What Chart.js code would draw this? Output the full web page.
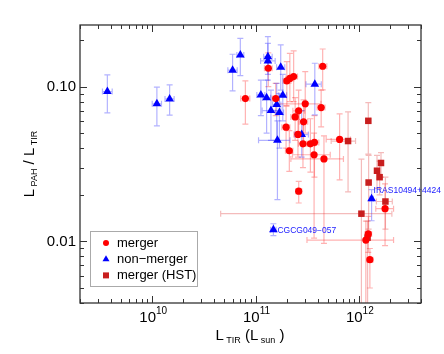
<!DOCTYPE html>
<html>
<head>
<meta charset="utf-8">
<script src="https://cdn.jsdelivr.net/npm/chart.js@4/dist/chart.umd.min.js"></script>
<style>html,body{margin:0;padding:0;background:#fff;}</style>
</head>
<body>
<canvas id="c" width="444" height="354"></canvas>
<script>
// axis ranges and ticks
var xMin = 2e9, xMax = 4e12;
var yMin = 0.004, yMax = 0.25;
var xMajorTicks = [1e10, 1e11, 1e12];
var xMajorExp = ['10', '11', '12'];
var yMajorTicks = [0.01, 0.1];
var yMajorText = ['0.01', '0.10'];

// merger (red circles)
var mergerL    = [7.98e10, 1.33e11, 4.47e11, 2.01e11, 2.15e11, 2.34e11, 1.569e11, 3.03e11, 4.32e11, 2.615e11, 2.42e11, 2.92e11, 1.977e11, 2.575e11, 2.88e11, 3.40e11, 3.72e11, 2.125e11, 3.69e11, 4.60e11, 2.62e11, 6.52e11, 1.795e12, 1.236e12, 1.17e12, 1.28e12];
var mergerR    = [0.0837, 0.1314, 0.1354, 0.1088, 0.1129, 0.116, 0.0837, 0.0774, 0.0732, 0.0697, 0.0637, 0.0592, 0.0547, 0.0491, 0.0427, 0.0427, 0.0436, 0.0385, 0.0363, 0.0341, 0.0211, 0.0456, 0.01626, 0.01117, 0.0102, 0.00762];
var mergerRLo  = [0.0572, 0.100, 0.0952, 0.075, 0.080, 0.080, 0.065, 0.050, 0.055, 0.050, 0.045, 0.042, 0.040, 0.035, 0.030, 0.028, 0.026, 0.0283, 0.0105, 0.0097, 0.0177, 0.025, 0.0094, 0.0085, 0.0035, 0.0050];
var mergerRHi  = [0.1088, 0.165, 0.175, 0.145, 0.164, 0.170, 0.105, 0.125, 0.095, 0.095, 0.085, 0.082, 0.075, 0.068, 0.060, 0.062, 0.065, 0.052, 0.050, 0.048, 0.0244, 0.0667, 0.0235, 0.0145, 0.0135, 0.0090];
var mergerLLo  = [7.2e10, 1.22e11, 4.1e11, 1.85e11, 1.97e11, 2.15e11, 1.45e11, 1.6e11, 3.95e11, 2.3e11, 2.2e11, 2.65e11, 1.8e11, 2.35e11, 2.6e11, 3.1e11, 3.4e11, 1.95e11, 2.28e11, 2.2e11, 2.45e11, 4.83e11, 1.46e12, 1.15e12, 3.15e11, 1.2e12];
var mergerLHi  = [8.8e10, 1.45e11, 4.9e11, 2.2e11, 2.35e11, 2.55e11, 1.7e11, 4.3e11, 4.7e11, 3.0e11, 2.65e11, 3.2e11, 2.15e11, 2.8e11, 3.2e11, 3.75e11, 4.1e11, 2.3e11, 5.29e11, 7.1e11, 2.8e11, 8.3e11, 2.17e12, 1.33e12, 2.17e12, 1.37e12];

// non-merger (blue triangles)
var nonL    = [3.68e9, 1.11e10, 1.475e10, 6.0e10, 7.13e10, 1.318e11, 1.318e11, 1.754e11, 3.75e11, 1.127e11, 1.281e11, 1.837e11, 1.604e11, 1.411e11, 1.705e11, 1.63e11, 2.80e11, 1.33e12, 1.49e11];
var nonR    = [0.0929, 0.0774, 0.0833, 0.1276, 0.160, 0.156, 0.1466, 0.1334, 0.1036, 0.0884, 0.0846, 0.088, 0.0766, 0.070, 0.068, 0.045, 0.049, 0.01886, 0.0119];
var nonRLo  = [0.0676, 0.0558, 0.0654, 0.0938, 0.1178, 0.12, 0.11, 0.095, 0.0657, 0.065, 0.05, 0.06, 0.045, 0.045, 0.040, 0.0186, 0.035, 0.0136, 0.0109];
var nonRHi  = [0.119, 0.0991, 0.1026, 0.1618, 0.205, 0.21, 0.19, 0.186, 0.1415, 0.11, 0.11, 0.12, 0.105, 0.095, 0.090, 0.060, 0.070, 0.0216, 0.0130];
var nonLLo  = [3.3e9, 1.0e10, 1.33e10, 5.4e10, 6.6e10, 1.2e11, 1.12e11, 1.6e11, 3.08e11, 1.03e11, 1.17e11, 1.68e11, 1.46e11, 1.16e11, 1.55e11, 1.07e11, 2.4e11, 1.28e12, 1.40e11];
var nonLHi  = [4.1e9, 1.23e10, 1.63e10, 6.65e10, 7.7e10, 1.45e11, 1.55e11, 1.92e11, 4.33e11, 1.23e11, 1.4e11, 2.0e11, 1.76e11, 1.76e11, 1.87e11, 2.16e11, 3.25e11, 1.38e12, 1.58e11];
var nonNames = ['', '', '', '', '', '', '', '', '', '', '', '', '', '', '', '', '', 'IRAS10494+4424', 'CGCG049\u2212057'];

// merger (HST) (dark red squares)
var hstL    = [1.236e12, 7.87e11, 1.64e12, 1.50e12, 1.59e12, 1.245e12, 1.81e12, 1.06e12, 1.216e12];
var hstR    = [0.0601, 0.0445, 0.0321, 0.0286, 0.026, 0.024, 0.0181, 0.0151, 0.01057];
var hstRLo  = [0.0366, 0.0209, 0.026, 0.022, 0.020, 0.012, 0.012, 0.003, 0.003];
var hstRHi  = [0.0788, 0.0687, 0.0374, 0.036, 0.033, 0.036, 0.026, 0.034, 0.0135];
var hstLLo  = [1.18e12, 5.4e11, 1.56e12, 1.43e12, 1.51e12, 1.18e12, 1.48e12, 4.6e10, 1.15e12];
var hstLHi  = [1.3e12, 9.3e11, 1.72e12, 1.58e12, 1.67e12, 1.31e12, 2.11e12, 2.09e12, 1.28e12];

var legendNames = ['merger', 'non\u2212merger', 'merger (HST)'];

var FONT = "'Liberation Sans', Arial, Helvetica, sans-serif";

function points(L, R, rlo, rhi, llo, lhi, names) {
    var out = [];
    for (var i = 0; i < L.length; i++) {
        out.push({x: L[i], y: R[i], yLo: rlo[i], yHi: rhi[i], xLo: llo[i], xHi: lhi[i],
                  name: names ? names[i] : ''});
    }
    return out;
}

var errorBars = {
    id: 'errorBars',
    beforeDatasetsDraw: function(chart) {
        var ctx = chart.ctx, xs = chart.scales.x, ys = chart.scales.y, a = chart.chartArea;
        var cap = 3;
        ctx.save();
        ctx.beginPath();
        ctx.rect(a.left, a.top, a.right - a.left, a.bottom - a.top);
        ctx.clip();
        ctx.lineWidth = 1.2;
        chart.data.datasets.forEach(function(ds) {
            ctx.strokeStyle = ds.errColor;
            ds.data.forEach(function(p) {
                var px = xs.getPixelForValue(p.x), py = ys.getPixelForValue(p.y);
                var y1 = ys.getPixelForValue(p.yLo), y2 = ys.getPixelForValue(p.yHi);
                var x1 = xs.getPixelForValue(p.xLo), x2 = xs.getPixelForValue(p.xHi);
                ctx.beginPath();
                ctx.moveTo(px, y1); ctx.lineTo(px, y2);
                ctx.moveTo(px - cap, y1); ctx.lineTo(px + cap, y1);
                ctx.moveTo(px - cap, y2); ctx.lineTo(px + cap, y2);
                ctx.stroke();
                ctx.beginPath();
                ctx.moveTo(x1, py); ctx.lineTo(x2, py);
                ctx.moveTo(x1, py - cap); ctx.lineTo(x1, py + cap);
                ctx.moveTo(x2, py - cap); ctx.lineTo(x2, py + cap);
                ctx.stroke();
            });
        });
        ctx.restore();
    }
};

function drawSegments(ctx, segs, x, y, align) {
    // segs: [text, size, dy]
    var w = 0;
    segs.forEach(function(s) { ctx.font = s[1] + 'px ' + FONT; w += ctx.measureText(s[0]).width; });
    var cx = align === 'center' ? x - w / 2 : x;
    ctx.textAlign = 'left';
    ctx.textBaseline = 'alphabetic';
    segs.forEach(function(s) {
        ctx.font = s[1] + 'px ' + FONT;
        ctx.fillText(s[0], cx, y + s[2]);
        cx += ctx.measureText(s[0]).width;
    });
}

var frame = {
    id: 'frame',
    afterDraw: function(chart) {
        var ctx = chart.ctx, xs = chart.scales.x, ys = chart.scales.y, a = chart.chartArea;
        ctx.save();

        // point labels
        ctx.fillStyle = '#2020ff';
        ctx.font = '8.5px ' + FONT;
        ctx.textBaseline = 'middle';
        chart.data.datasets[1].data.forEach(function(p) {
            if (!p.name) return;
            var px = xs.getPixelForValue(p.x), py = ys.getPixelForValue(p.y);
            if (p.name.indexOf('IRAS') === 0) ctx.fillText(p.name, px + 2, py - 8);
            else ctx.fillText(p.name, px + 4, py + 0.5);
        });

        // frame
        ctx.strokeStyle = '#333';
        ctx.lineWidth = 1.3;
        ctx.strokeRect(a.left, a.top, a.right - a.left, a.bottom - a.top);

        // ticks
        ctx.lineWidth = 1;
        function xTick(v, len) {
            var px = Math.round(xs.getPixelForValue(v)) + 0.5;
            ctx.beginPath();
            ctx.moveTo(px, a.bottom); ctx.lineTo(px, a.bottom - len);
            ctx.moveTo(px, a.top); ctx.lineTo(px, a.top + len);
            ctx.stroke();
        }
        function yTick(v, len) {
            var py = Math.round(ys.getPixelForValue(v)) + 0.5;
            ctx.beginPath();
            ctx.moveTo(a.left, py); ctx.lineTo(a.left + len, py);
            ctx.moveTo(a.right, py); ctx.lineTo(a.right - len, py);
            ctx.stroke();
        }
        for (var d = 9; d <= 12; d++) {
            for (var m = 1; m <= 9; m++) {
                var v = m * Math.pow(10, d);
                if (v < xMin || v > xMax) continue;
                xTick(v, m === 1 ? 7 : 4);
            }
        }
        for (var e = -3; e <= -1; e++) {
            for (var k = 1; k <= 9; k++) {
                var w = k * Math.pow(10, e);
                if (w < yMin || w > yMax) continue;
                yTick(w, k === 1 ? 7 : 4);
            }
        }

        // tick labels
        ctx.fillStyle = '#000';
        xMajorTicks.forEach(function(v, i) {
            var px = xs.getPixelForValue(v);
            drawSegments(ctx, [['10', 15, 0], [xMajorExp[i], 10, -8]], px + 1, 322, 'center');
        });
        ctx.font = '15px ' + FONT;
        ctx.textAlign = 'right';
        ctx.textBaseline = 'middle';
        yMajorTicks.forEach(function(v, i) {
            ctx.fillText(yMajorText[i], 76, ys.getPixelForValue(v));
        });

        // axis titles
        drawSegments(ctx, [['L', 15, 0], [' TIR', 9, 3], [' (L', 15, 0], [' sun', 9, 3], [' )', 15, 0]],
                     250, 340, 'center');
        ctx.save();
        ctx.translate(34, 164);
        ctx.rotate(-Math.PI / 2);
        drawSegments(ctx, [['L', 15, 0], [' PAH', 9, 3], [' / L', 15, 0], [' TIR', 9, 3]], 0, 0, 'center');
        ctx.restore();

        // legend
        var lx = 90.5, ly = 231.5, lw = 107, lh = 55;
        ctx.fillStyle = '#fff';
        ctx.fillRect(lx, ly, lw, lh);
        ctx.strokeStyle = '#aaa';
        ctx.lineWidth = 1;
        ctx.strokeRect(lx, ly, lw, lh);
        chart.data.datasets.forEach(function(ds, i) {
            var ry = 243 + i * 16.2;
            ctx.fillStyle = ds.backgroundColor;
            ctx.beginPath();
            if (ds.pointStyle === 'circle') ctx.arc(106, ry, 3, 0, Math.PI * 2);
            else if (ds.pointStyle === 'triangle') {
                ctx.moveTo(106, ry - 4); ctx.lineTo(109.5, ry + 2); ctx.lineTo(102.5, ry + 2); ctx.closePath();
            } else ctx.rect(103, ry - 3, 6, 6);
            ctx.fill();
            ctx.fillStyle = '#000';
            ctx.font = '13px ' + FONT;
            ctx.textAlign = 'left';
            ctx.textBaseline = 'middle';
            ctx.fillText(legendNames[i], 117, ry);
        });
        ctx.restore();
    }
};

new Chart(document.getElementById('c').getContext('2d'), {
    type: 'scatter',
    data: {
        datasets: [{
            label: legendNames[0],
            data: points(mergerL, mergerR, mergerRLo, mergerRHi, mergerLLo, mergerLHi),
            pointStyle: 'circle', pointRadius: 3.6,
            backgroundColor: '#ff0000', borderColor: '#ff0000', borderWidth: 0,
            errColor: 'rgba(255,0,0,0.3)'
        }, {
            label: legendNames[1],
            data: points(nonL, nonR, nonRLo, nonRHi, nonLLo, nonLHi, nonNames),
            pointStyle: 'triangle', pointRadius: 5,
            backgroundColor: '#0000ff', borderColor: '#0000ff', borderWidth: 0,
            errColor: 'rgba(0,0,255,0.3)'
        }, {
            label: legendNames[2],
            data: points(hstL, hstR, hstRLo, hstRHi, hstLLo, hstLHi),
            pointStyle: 'rect', pointRadius: 4.6,
            backgroundColor: '#c81e1e', borderColor: '#c81e1e', borderWidth: 0,
            errColor: 'rgba(220,30,30,0.3)'
        }]
    },
    options: {
        responsive: false,
        animation: false,
        layout: {padding: {left: 80, right: 23, top: 25, bottom: 51}},
        plugins: {legend: {display: false}, tooltip: {enabled: false}},
        scales: {
            x: {type: 'logarithmic', min: xMin, max: xMax, display: false},
            y: {type: 'logarithmic', min: yMin, max: yMax, display: false}
        }
    },
    plugins: [errorBars, frame]
});
</script>
</body>
</html>
